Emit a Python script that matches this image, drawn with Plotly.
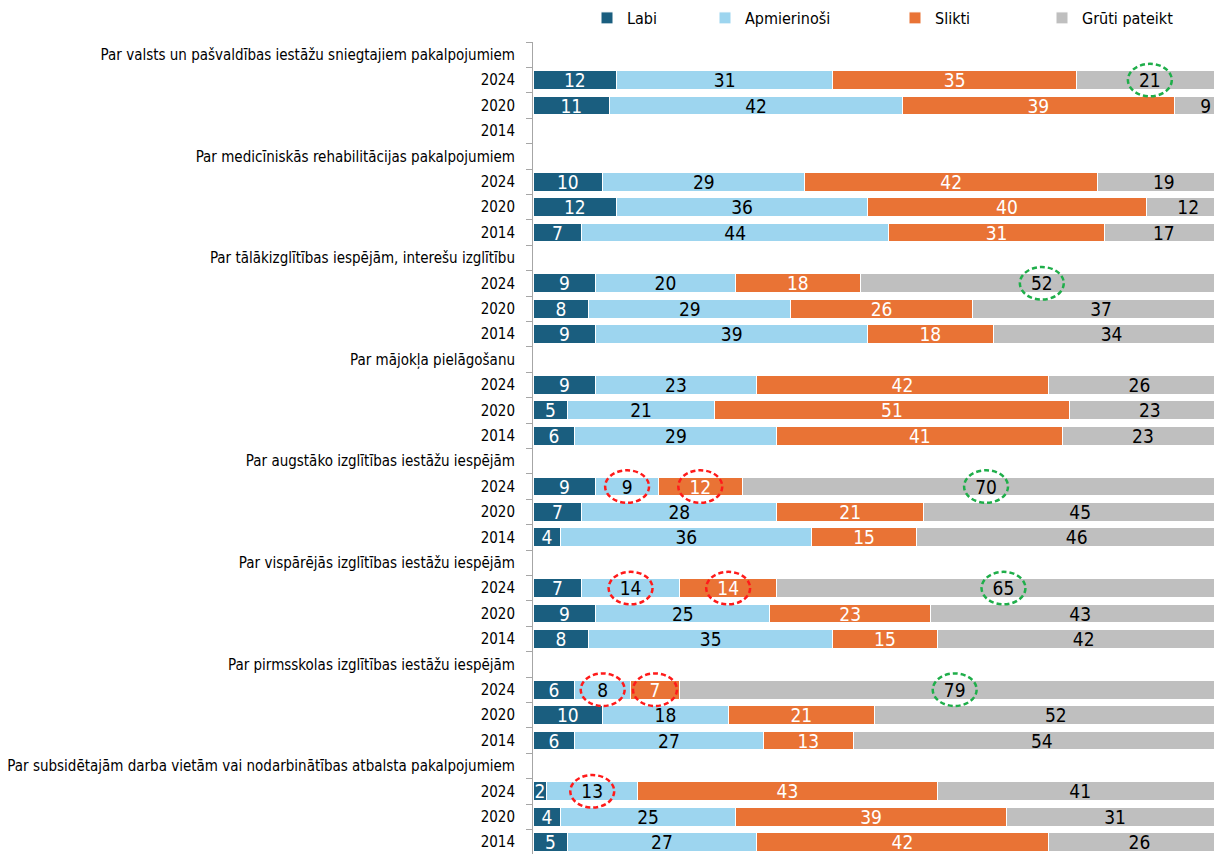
import plotly.graph_objects as go

# ---------------- data ----------------
groups = [
    "Par valsts un pašvaldības iestāžu sniegtajiem pakalpojumiem",
    "Par medicīniskās rehabilitācijas pakalpojumiem",
    "Par tālākizglītības iespējām, interešu izglītību",
    "Par mājokļa pielāgošanu",
    "Par augstāko izglītības iestāžu iespējām",
    "Par vispārējās izglītības iestāžu iespējām",
    "Par pirmsskolas izglītības iestāžu iespējām",
    "Par subsidētajām darba vietām vai nodarbinātības atbalsta pakalpojumiem",
]
years = ["2024", "2020", "2014"]
series_names = ["Labi", "Apmierinoši", "Slikti", "Grūti pateikt"]

# values per group, per year (2024, 2020, 2014); None = no data
labi = [[12, 11, None], [10, 12, 7], [9, 8, 9], [9, 5, 6], [9, 7, 4], [7, 9, 8], [6, 10, 6], [2, 4, 5]]
apmierinosi = [[31, 42, None], [29, 36, 44], [20, 29, 39], [23, 21, 29], [9, 28, 36], [14, 25, 35], [8, 18, 27], [13, 25, 27]]
slikti = [[35, 39, None], [42, 40, 31], [18, 26, 18], [42, 51, 41], [12, 21, 15], [14, 23, 15], [7, 21, 13], [43, 39, 42]]
gruti = [[21, 9, None], [19, 12, 17], [52, 37, 34], [26, 23, 23], [70, 45, 46], [65, 43, 42], [79, 52, 54], [41, 31, 26]]

# highlighted labels: (group index, series index) -> ellipse colour (2024 row)
red_marks = [(4, 1), (4, 2), (5, 1), (5, 2), (6, 1), (6, 2), (7, 1)]
green_marks = [(0, 3), (2, 3), (4, 3), (5, 3), (6, 3)]

# ---------------- styling ----------------
colors = ["#1a5e7f", "#9dd5ef", "#e97335", "#bfbfbf"]
text_colors = ["white", "black", "white", "black"]
FONT = "Liberation Sans Narrow, DejaVu Sans Condensed, Roboto, sans-serif"

all_series = [labi, apmierinosi, slikti, gruti]

# build row layout: header row + 3 year rows per group
tickvals, ticktext = [], []
row_of = {}
r = 0
for gi, g in enumerate(groups):
    tickvals.append(r)
    ticktext.append(g)
    r += 1
    for yi, yr in enumerate(years):
        tickvals.append(r)
        ticktext.append(yr)
        row_of[(gi, yi)] = r
        r += 1
n_rows = r

fig = go.Figure()
legend_ids = ["legend", "legend2", "legend3", "legend4"]
for si, name in enumerate(series_names):
    ys, xs, txt = [], [], []
    for gi in range(len(groups)):
        for yi in range(len(years)):
            v = all_series[si][gi][yi]
            ys.append(row_of[(gi, yi)])
            xs.append(v)
            txt.append("" if v is None else str(v))
    fig.add_trace(go.Bar(
        name=name, orientation="h", x=xs, y=ys, text=txt,
        textposition="inside", insidetextanchor="middle", textangle=0,
        constraintext="none",
        textfont=dict(color=text_colors[si], size=19, family=FONT),
        marker=dict(color=colors[si], line=dict(color="white", width=1)),
        width=0.74, legend=legend_ids[si], hoverinfo="skip",
    ))

# ellipses around highlighted labels (centres computed from the data)
shapes = []
def add_mark(gi, si, col):
    yi = 0
    vals = [all_series[k][gi][yi] for k in range(4)]
    start = sum(vals[:si])
    cx = start + vals[si] / 2
    cy = row_of[(gi, yi)]
    shapes.append(dict(type="circle", xref="x", yref="y",
                       x0=cx - 3.15, x1=cx + 3.15, y0=cy - 0.64, y1=cy + 0.64,
                       line=dict(color=col, width=2.5, dash="5px,3px"), layer="above"))
for gi, si in red_marks:
    add_mark(gi, si, "#ff1a1a")
for gi, si in green_marks:
    add_mark(gi, si, "#1fae4a")

# the page adds an 8px body margin, so the figure is offset by 8px
OFF = 8
W, H = 1222 - OFF, 854 - OFF
L, T = 533 - OFF, 42 - OFF
plot_w, plot_h = W - L, H - T
row_px = 25.4
rows_visible = plot_h / row_px

# legend text start positions (screen px) in the reference
legend_text_x = [622, 740, 930, 1077]
legend_layouts = {}
for i, lid in enumerate(legend_ids):
    legend_layouts[lid] = dict(
        x=(legend_text_x[i] - OFF - 35 - L) / plot_w, xanchor="left",
        y=1 + (T - (18 - OFF)) / plot_h, yanchor="middle",
        orientation="h", font=dict(size=16, family=FONT, color="black"),
        bgcolor="rgba(0,0,0,0)", itemwidth=30, tracegroupgap=0,
    )

fig.update_layout(
    width=W, height=H,
    margin=dict(l=L, r=0, t=T, b=0, pad=0, autoexpand=False),
    barmode="stack",
    plot_bgcolor="white", paper_bgcolor="white",
    font=dict(family=FONT, size=15, color="black"),
    xaxis=dict(range=[0, 98.85], visible=False, fixedrange=True),
    yaxis=dict(
        range=[rows_visible - 0.5, -0.5], tickmode="array",
        tickvals=tickvals, ticktext=ticktext, ticks="",
        ticklabelstandoff=14, automargin=False,
        showline=True, linecolor="#a6a6a6", linewidth=1,
        showgrid=False, zeroline=False,
        tickfont=dict(size=15, family=FONT, color="black"),
        minor=dict(tickvals=[k - 0.5 for k in range(n_rows + 1)],
                   ticks="outside", ticklen=6, tickcolor="#a6a6a6", showgrid=False),
    ),
    shapes=shapes,
    showlegend=True,
    **legend_layouts,
)

fig.write_html("out.html")
